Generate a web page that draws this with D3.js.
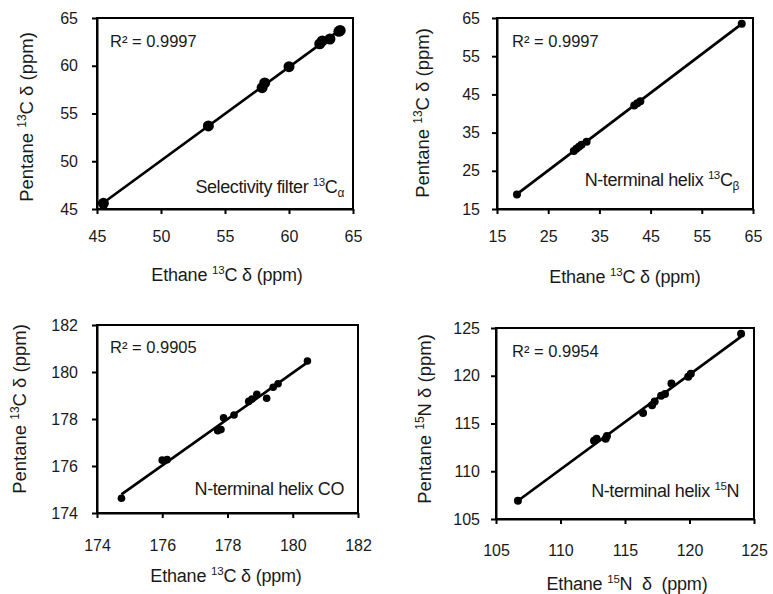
<!DOCTYPE html>
<html>
<head>
<meta charset="utf-8">
<script src="https://cdn.jsdelivr.net/npm/d3@7/dist/d3.min.js"></script>
<style>
  html, body { margin: 0; padding: 0; background: #fff; }
  svg { display: block; }
  text { font-family: "Liberation Sans", Arial, sans-serif; fill: #1a1a1a; white-space: pre; }
</style>
</head>
<body>
<svg id="chart" width="773" height="594"></svg>
<script>
// ---- data ----
const caEthane  = [45.5, 53.7, 57.9, 58.1, 60.0, 62.4, 62.6, 63.2, 63.9, 64.0];
const caPentane = [45.6, 53.7, 57.7, 58.2, 59.9, 62.3, 62.6, 62.8, 63.6, 63.7];
const caTicks = [45, 50, 55, 60, 65];

const cbEthane  = [18.9, 30.0, 30.5, 31.0, 31.5, 32.5, 41.8, 42.4, 43.0, 62.8];
const cbPentane = [18.8, 30.2, 30.8, 31.3, 31.8, 32.6, 42.1, 42.7, 43.2, 63.5];
const cbTicks = [15, 25, 35, 45, 55, 65];

const coEthane  = [174.75, 176.0, 176.15, 177.7, 177.8, 177.88, 178.2, 178.65, 178.75, 178.9, 179.2, 179.4, 179.55, 180.45];
const coPentane = [174.63, 176.25, 176.27, 177.5, 177.55, 178.05, 178.17, 178.75, 178.85, 179.05, 178.88, 179.35, 179.5, 180.47];
const coTicks = [174, 176, 178, 180, 182];

const nEthane  = [106.7, 112.6, 112.8, 113.5, 113.6, 116.4, 117.1, 117.3, 117.8, 118.1, 118.6, 119.9, 120.1, 124.0];
const nPentane = [106.9, 113.2, 113.4, 113.4, 113.7, 116.1, 116.9, 117.3, 117.9, 118.1, 119.2, 119.9, 120.2, 124.4];
const nTicks = [105, 110, 115, 120, 125];

const r2Labels = ["0.9997", "0.9997", "0.9905", "0.9954"];

const svg = d3.select("#chart");

function fit(xs, ys) {
  const n = xs.length;
  const mx = d3.mean(xs), my = d3.mean(ys);
  let sxy = 0, sxx = 0;
  for (let i = 0; i < n; i++) { sxy += (xs[i]-mx)*(ys[i]-my); sxx += (xs[i]-mx)*(xs[i]-mx); }
  const b = sxy / sxx, a = my - b*mx;
  return x => a + b*x;
}

function drawPanel(cfg) {
  const g = svg.append("g");
  const x = d3.scaleLinear().domain(d3.extent(cfg.ticks)).range([cfg.left, cfg.right]);
  const y = d3.scaleLinear().domain(d3.extent(cfg.ticks)).range([cfg.bottom, cfg.top]);

  g.append("rect")
    .attr("x", cfg.left).attr("y", cfg.top)
    .attr("width", cfg.right - cfg.left).attr("height", cfg.bottom - cfg.top)
    .attr("fill", "none").attr("stroke", "#000").attr("stroke-width", 2);

  const xa = g.append("g").attr("transform", `translate(0,${cfg.bottom})`)
    .call(d3.axisBottom(x).tickValues(cfg.ticks).tickSize(5).tickSizeOuter(0).tickPadding(cfg.xPad).tickFormat(d3.format("d")));
  xa.select(".domain").attr("stroke-width", 2);
  xa.selectAll(".tick line").attr("stroke-width", 2);
  xa.selectAll("text").attr("font-size", 16).attr("fill", "#1a1a1a")
    .style("font-family", '"Liberation Sans", Arial, sans-serif');

  const ya = g.append("g").attr("transform", `translate(${cfg.left},0)`)
    .call(d3.axisLeft(y).tickValues(cfg.ticks).tickSize(5).tickSizeOuter(0).tickPadding(cfg.yPad).tickFormat(d3.format("d")));
  ya.select(".domain").attr("stroke-width", 2);
  ya.selectAll(".tick line").attr("stroke-width", 2);
  ya.selectAll("text").attr("font-size", 16).attr("fill", "#1a1a1a")
    .style("font-family", '"Liberation Sans", Arial, sans-serif');

  const f = fit(cfg.xs, cfg.ys);
  const [x0, x1] = d3.extent(cfg.xs);
  g.append("line")
    .attr("x1", x(x0)).attr("y1", y(f(x0)))
    .attr("x2", x(x1)).attr("y2", y(f(x1)))
    .attr("stroke", "#000").attr("stroke-width", 2.7);

  g.selectAll("circle.pt").data(cfg.xs.map((v, i) => [v, cfg.ys[i]]))
    .join("circle").attr("class", "pt")
    .attr("cx", d => x(d[0])).attr("cy", d => y(d[1]))
    .attr("r", cfg.r).attr("fill", "#000");

  g.append("text").attr("x", cfg.r2x).attr("y", cfg.r2y).attr("font-size", 16.5)
    .text("R² = " + cfg.r2);

  const pl = g.append("text").attr("x", cfg.plx).attr("y", cfg.ply)
    .attr("font-size", 18).attr("text-anchor", "end").attr("letter-spacing", -0.4);
  pl.append("tspan").text(cfg.pl[0]);
  if (cfg.pl[1]) pl.append("tspan").attr("font-size", 11.5).attr("dy", -7).text(cfg.pl[1]);
  if (cfg.pl[2]) pl.append("tspan").attr("dy", 7).text(cfg.pl[2]);
  if (cfg.pl[3]) pl.append("tspan").attr("font-size", 12).attr("dy", 4).text(cfg.pl[3]);

  const xt = g.append("text").attr("x", cfg.xtx).attr("y", cfg.xty)
    .attr("font-size", 18).attr("text-anchor", "middle").attr("letter-spacing", -0.2);
  xt.append("tspan").text(cfg.xt[0]);
  xt.append("tspan").attr("font-size", 11.5).attr("dy", -7).text(cfg.xt[1]);
  xt.append("tspan").attr("dy", 7).text(cfg.xt[2]);

  const yt = g.append("text")
    .attr("transform", `translate(${cfg.ytx},${cfg.yty}) rotate(-90)`)
    .attr("font-size", 18.5).attr("text-anchor", "middle");
  yt.append("tspan").text(cfg.yt[0]);
  yt.append("tspan").attr("font-size", 12).attr("dy", -7).text(cfg.yt[1]);
  yt.append("tspan").attr("dy", 7).text(cfg.yt[2]);
}

drawPanel({
  left: 97, right: 353, top: 18, bottom: 209, ticks: caTicks, xs: caEthane, ys: caPentane, r: 5.5,
  xPad: 17, yPad: 14,
  r2: r2Labels[0], r2x: 110, r2y: 47,
  pl: ["Selectivity filter ", "13", "C", "α"], plx: 344, ply: 193,
  xt: ["Ethane ", "13", "C δ (ppm)"], xtx: 227, xty: 281,
  yt: ["Pentane ", "13", "C δ (ppm)"], ytx: 33, yty: 117
});

drawPanel({
  left: 497, right: 753, top: 18, bottom: 209, ticks: cbTicks, xs: cbEthane, ys: cbPentane, r: 4,
  xPad: 17, yPad: 12,
  r2: r2Labels[1], r2x: 512, r2y: 47,
  pl: ["N-terminal helix ", "13", "C", "β"], plx: 739, ply: 186,
  xt: ["Ethane ", "13", "C δ (ppm)"], xtx: 625, xty: 283,
  yt: ["Pentane ", "13", "C δ (ppm)"], ytx: 429, yty: 113
});

drawPanel({
  left: 97, right: 358, top: 325, bottom: 513, ticks: coTicks, xs: coEthane, ys: coPentane, r: 3.8,
  xPad: 22, yPad: 14,
  r2: r2Labels[2], r2x: 110, r2y: 353,
  pl: ["N-terminal helix CO"], plx: 344, ply: 495,
  xt: ["Ethane ", "13", "C δ (ppm)"], xtx: 226, xty: 582,
  yt: ["Pentane ", "13", "C δ (ppm)"], ytx: 26, yty: 409
});

drawPanel({
  left: 496, right: 754, top: 328, bottom: 519, ticks: nTicks, xs: nEthane, ys: nPentane, r: 4,
  xPad: 21, yPad: 11,
  r2: r2Labels[3], r2x: 512, r2y: 357,
  pl: ["N-terminal helix ", "15", "N"], plx: 739, ply: 497,
  xt: ["Ethane ", "15", "N  δ  (ppm)"], xtx: 627, xty: 590,
  yt: ["Pentane ", "15", "N δ (ppm)"], ytx: 431, yty: 419
});
</script>
</body>
</html>
